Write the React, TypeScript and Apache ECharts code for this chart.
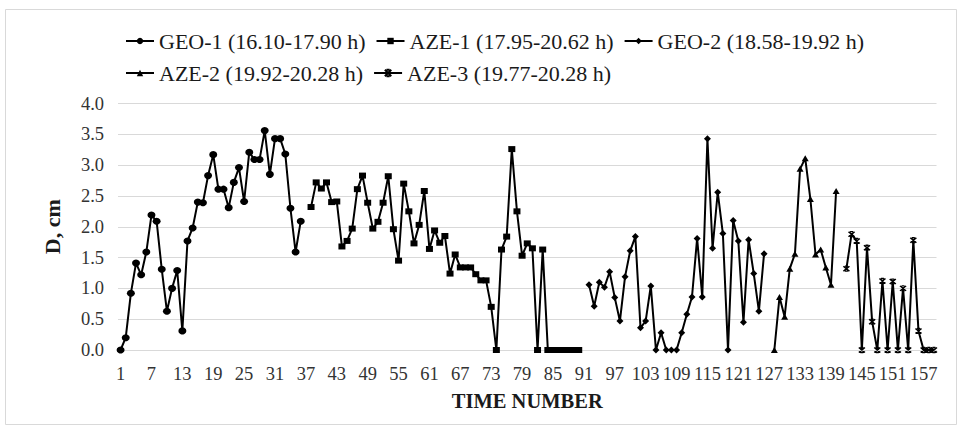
import React, { useEffect, useRef } from "react";
import * as echarts from "echarts";

// Category labels: time numbers 1..159
const TIME_NUMBERS: string[] = Array.from({ length: 159 }, (_, i) => String(i + 1));

// Series values (D, cm) with the time number where each series starts
const GEO1_START = 1;
const GEO1: number[] = [
  0, 0.2, 0.92, 1.41, 1.22, 1.59, 2.19, 2.09, 1.31, 0.63,
  1.0, 1.29, 0.31, 1.77, 1.98, 2.4, 2.39, 2.83, 3.17, 2.61,
  2.61, 2.31, 2.72, 2.96, 2.41, 3.21, 3.09, 3.09, 3.56, 2.85,
  3.43, 3.43, 3.18, 2.3, 1.59, 2.09,
];
const AZE1_START = 38;
const AZE1: number[] = [
  2.32, 2.72, 2.62, 2.72, 2.4, 2.41, 1.68, 1.77, 1.97, 2.61,
  2.83, 2.39, 1.97, 2.08, 2.39, 2.82, 1.96, 1.45, 2.7, 2.25,
  1.73, 2.03, 2.58, 1.64, 1.94, 1.74, 1.85, 1.24, 1.55, 1.34,
  1.34, 1.34, 1.23, 1.13, 1.13, 0.7, 0, 1.63, 1.84, 3.26,
  2.25, 1.53, 1.73, 1.65, 0, 1.63, 0, 0, 0, 0,
  0, 0, 0,
];
const GEO2_START = 92;
const GEO2: number[] = [
  1.06, 0.71, 1.1, 1.02, 1.27, 0.85, 0.47, 1.19, 1.61, 1.84,
  0.36, 0.47, 1.04, 0, 0.28, 0, 0, 0, 0.28, 0.58,
  0.86, 1.81, 0.86, 3.43, 1.65, 2.56, 1.89, 0, 2.1, 1.77,
  0.45, 1.79, 1.24, 0.63, 1.56,
];
const AZE2_START = 128;
const AZE2: number[] = [0, 0.86, 0.54, 1.32, 1.56, 2.94, 3.11, 2.45, 1.55, 1.63, 1.34, 1.06, 2.58];
const AZE3_START = 142;
const AZE3: number[] = [
  1.32, 1.88, 1.77, 0, 1.66, 0.46, 0, 1.12, 0, 1.11,
  0, 1.0, 0, 1.78, 0.31, 0, 0, 0,
];

const SERIES_NAMES: string[] = [
  "GEO-1 (16.10-17.90 h)",
  "AZE-1 (17.95-20.62 h)",
  "GEO-2 (18.58-19.92 h)",
  "AZE-2 (19.92-20.28 h)",
  "AZE-3 (19.77-20.28 h)",
];

const Y_TICKS: number[] = [0, 0.5, 1, 1.5, 2, 2.5, 3, 3.5, 4];

function pad(start: number, values: number[]): (number | null)[] {
  return TIME_NUMBERS.map((_, i) => {
    const k = i + 1 - start;
    return k >= 0 && k < values.length ? values[k] : null;
  });
}

const FONT = "'Liberation Serif', 'Times New Roman', serif";
const X_MARK = "path://M0,0L10,10M10,0L0,10M2.5,0L7.5,0M2.5,10L7.5,10";

export default function App() {
  const ref = useRef<HTMLDivElement>(null);
  useEffect(() => {
    if (!ref.current) return;
    const chart = echarts.init(ref.current, undefined, { renderer: "svg" });
    const base = (name: string, data: (number | null)[], symbol: string, size: number | number[], extra: any = {}) => ({
      type: "line",
      name,
      data,
      symbol,
      symbolSize: size,
      showSymbol: true,
      showAllSymbol: true,
      connectNulls: false,
      lineStyle: { color: "#000", width: 2 },
      itemStyle: { color: "#000", ...extra },
      emphasis: { disabled: true },
    });
    chart.setOption({
      animation: false,
      backgroundColor: "#fff",
      textStyle: { fontFamily: FONT },
      legend: {
        left: 120,
        top: 25,
        width: 770,
        itemGap: 10,
        itemWidth: 28,
        itemHeight: 8,
        textStyle: { fontFamily: FONT, fontSize: 22, color: "#1a1a1a" },
        data: SERIES_NAMES,
      },
      grid: { left: 118, right: 25.5, top: 103.5, bottom: 80, containLabel: false },
      xAxis: {
        type: "category",
        data: TIME_NUMBERS,
        boundaryGap: true,
        name: "TIME NUMBER",
        nameLocation: "middle",
        nameGap: 40,
        nameTextStyle: { fontFamily: FONT, fontSize: 20.5, fontWeight: "bold", color: "#1a1a1a" },
        axisLine: { show: true, lineStyle: { color: "#d9d9d9", width: 1 } },
        axisTick: { show: false },
        axisLabel: {
          interval: 5,
          margin: 14,
          fontFamily: FONT,
          fontSize: 18.5,
          color: "#333",
        },
        splitLine: { show: false },
      },
      yAxis: {
        type: "value",
        min: Y_TICKS[0],
        max: Y_TICKS[Y_TICKS.length - 1],
        interval: 0.5,
        name: "D, cm",
        nameLocation: "middle",
        nameGap: 55,
        nameRotate: 90,
        nameTextStyle: { fontFamily: FONT, fontSize: 22, fontWeight: "bold", color: "#1a1a1a" },
        axisLine: { show: false },
        axisTick: { show: false },
        axisLabel: {
          margin: 14,
          fontFamily: FONT,
          fontSize: 18.5,
          color: "#333",
          formatter: (v: number) => v.toFixed(1),
        },
        splitLine: { show: true, lineStyle: { color: "#d9d9d9", width: 1 } },
      },
      graphic: [
        {
          type: "rect",
          shape: { x: 5.5, y: 9.5, width: 951, height: 415 },
          style: { fill: "none", stroke: "#d9d9d9", lineWidth: 1 },
          silent: true,
          z: -1,
        },
      ],
      series: [
        base(SERIES_NAMES[0], pad(GEO1_START, GEO1), "circle", [8, 7]),
        base(SERIES_NAMES[1], pad(AZE1_START, AZE1), "rect", [7, 6]),
        base(SERIES_NAMES[2], pad(GEO2_START, GEO2), "diamond", [7, 7]),
        base(SERIES_NAMES[3], pad(AZE2_START, AZE2), "triangle", [7, 6]),
        base(SERIES_NAMES[4], pad(AZE3_START, AZE3), X_MARK, [6, 5], { borderColor: "#000", borderWidth: 1.5 }),
      ],
    });
    return () => chart.dispose();
  }, []);
  return (
    <div
      ref={ref}
      style={{ position: "fixed", left: 0, top: 0, width: 962, height: 430, background: "#fff" }}
    />
  );
}
